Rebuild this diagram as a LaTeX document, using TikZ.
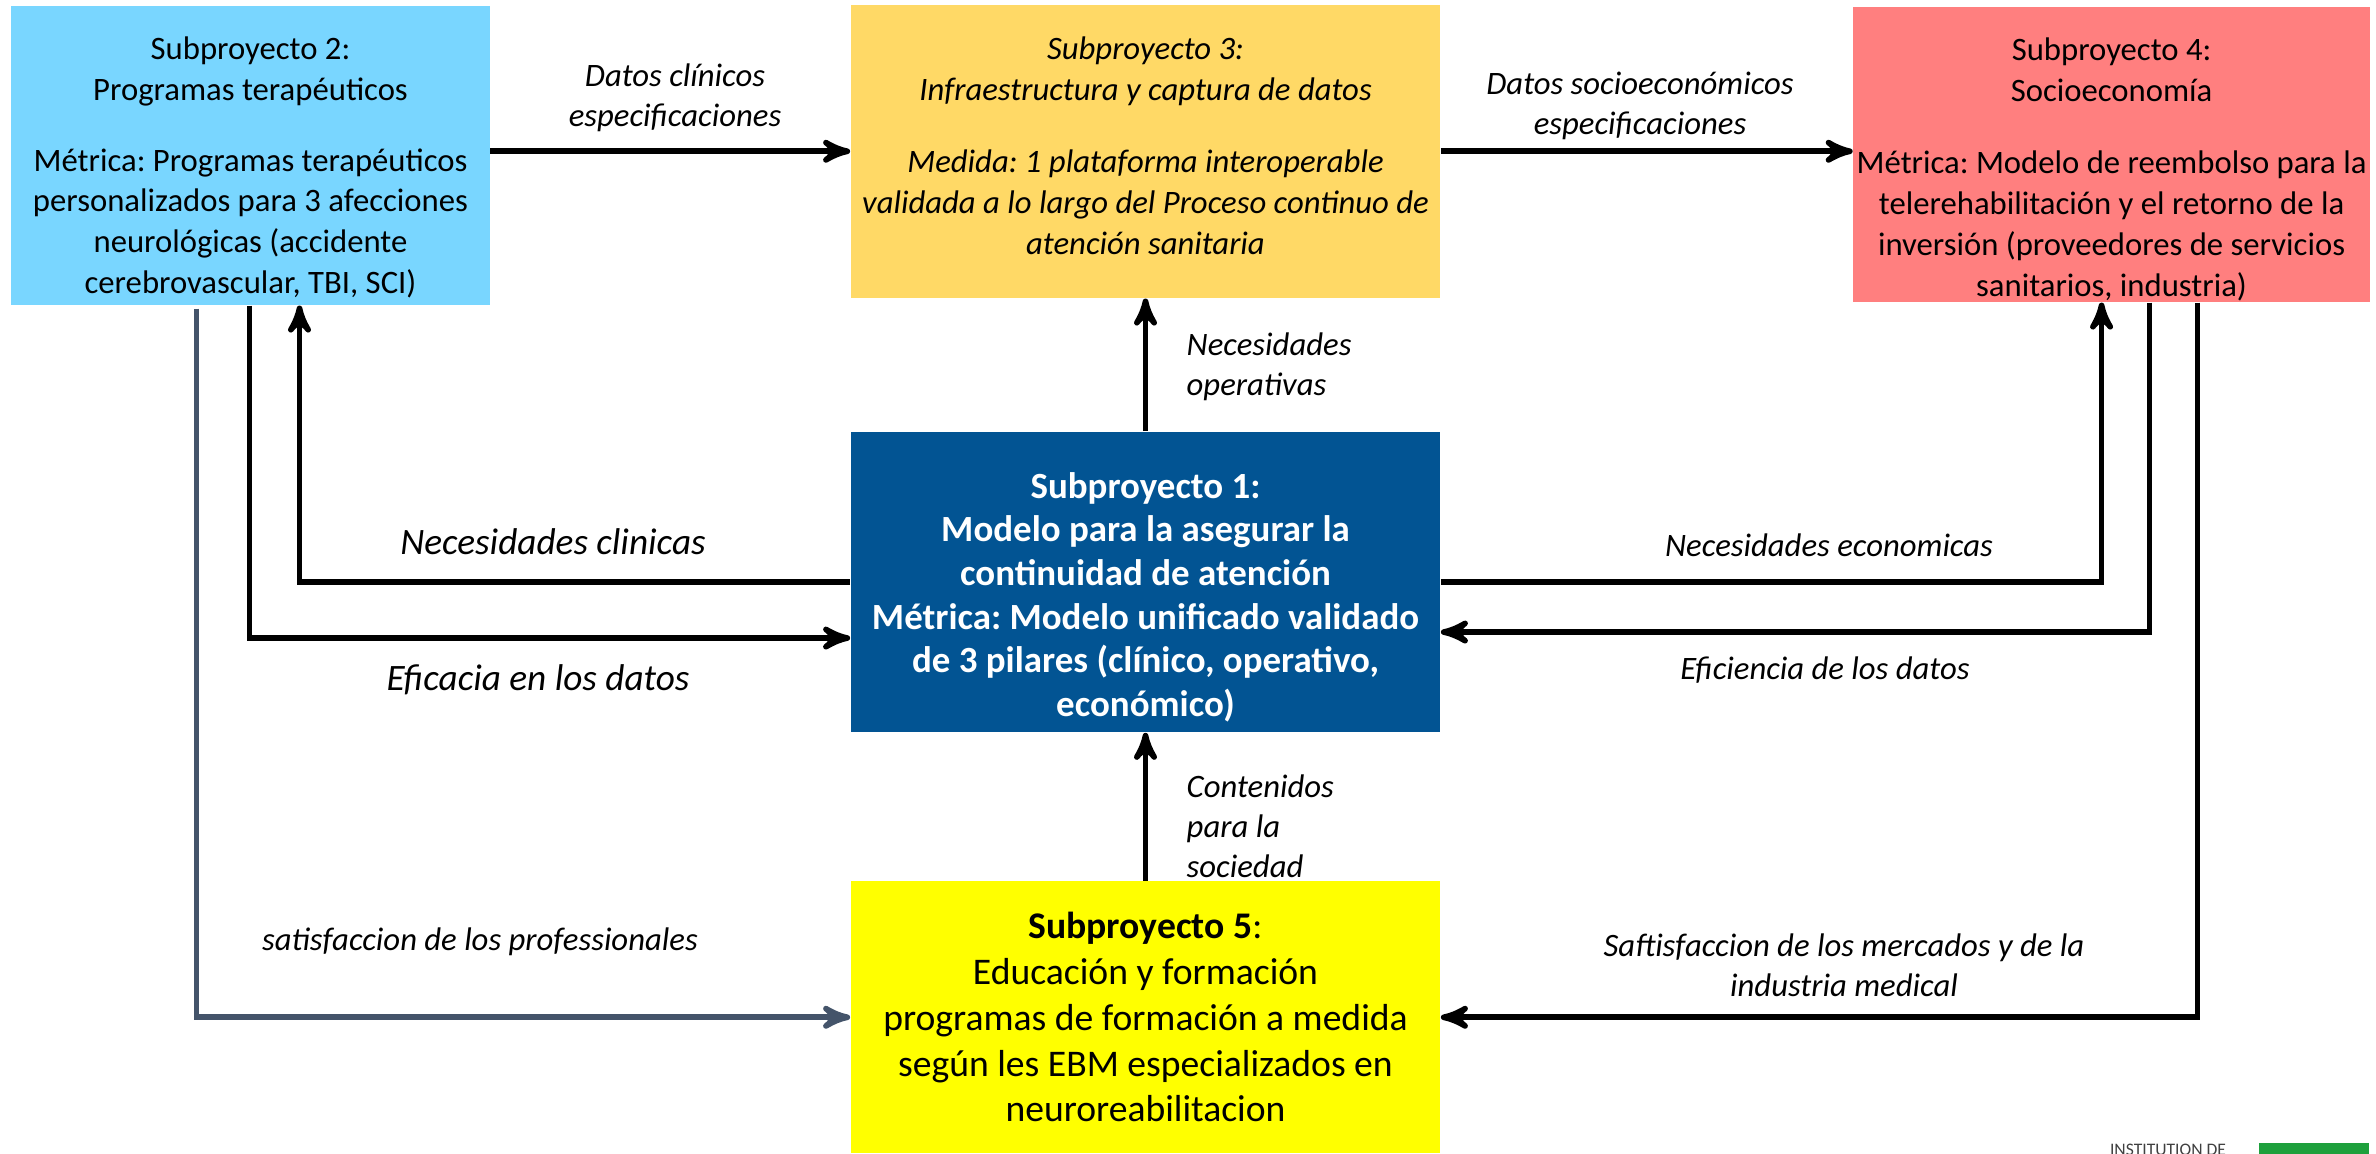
\documentclass[tikz,border=0pt]{standalone}
\usepackage{fontspec}
\setmainfont{Carlito}
\frenchspacing
\usetikzlibrary{positioning}
\usetikzlibrary{arrows}
\definecolor{sponeblue}{RGB}{2,84,147}
\definecolor{sptwoblue}{RGB}{121,214,255}
\definecolor{spthreegold}{RGB}{255,217,102}
\definecolor{spfourred}{RGB}{255,127,127}
\definecolor{spfiveyellow}{RGB}{255,255,0}
\definecolor{slategray}{RGB}{68,84,106}
\definecolor{logogreen}{RGB}{30,160,60}
\newcommand{\spfont}{\fontsize{9.3}{11.6}\selectfont}
\newcommand{\spbfont}{\fontsize{10.5}{12.4}\selectfont}
\newcommand{\spvfont}{\fontsize{10.7}{13}\selectfont}
\newcommand{\lblfont}{\fontsize{9.3}{11.3}\selectfont}
\newcommand{\lblbigfont}{\fontsize{10.6}{13}\selectfont}
\tikzset{subbox/.style={ % Sets the properties for each subproject
rectangle,
fill=#1,
align=center,
inner sep=0pt,
minimum width=5.89cm},
link/.style={ % Sets the properties for each connector
draw,
->,>=stealth', % Directed with bold arrowheads
line width=1.6pt},
lbl/.style={ % Labels on the connectors
font=\lblfont\itshape,
align=center,
inner sep=0pt}}

\begin{document}
\begin{tikzpicture}[x=0.01cm,y=-0.01cm]
					\useasboundingbox (0,0) rectangle (2376,1153);

					\node[subbox=sponeblue, minimum height=3cm, text=white, font=\spbfont\bfseries] (sp1) at (1145.5,582) {\rule{0pt}{16pt}Subproyecto 1:\\Modelo para la asegurar la\\continuidad de atención\\Métrica: Modelo unificado validado\\de 3 pilares (clínico, operativo,\\económico)};
					\node[subbox=spthreegold, above of=sp1, node distance=4.305cm, minimum height=2.93cm, font=\spfont\itshape] (sp3) {Subproyecto 3:\\Infraestructura y captura de datos\\[9pt]Medida: 1 plataforma interoperable\\validada a lo largo del Proceso continuo de\\atención sanitaria\rule[-3.4pt]{0pt}{3.4pt}};
					\node[subbox=sptwoblue, left of=sp3, node distance=8.945cm, yshift=-0.04cm, minimum width=4.78cm, minimum height=2.99cm, font=\spfont] (sp2) {\rule{0pt}{13.4pt}Subproyecto 2:\\Programas terapéuticos\\[8.5pt]Métrica: Programas terapéuticos\\personalizados para 3 afecciones\\neurológicas (accidente\\cerebrovascular, TBI, SCI)};
					\node[subbox=spfourred, right of=sp3, node distance=9.655cm, yshift=-0.03cm, minimum width=5.16cm, minimum height=2.95cm, font=\spfont] (sp4) {\rule{0pt}{15.1pt}Subproyecto 4:\\Socioeconomía\\[9pt]Métrica: Modelo de reembolso para la\\telerehabilitación y el retorno de la\\inversión (proveedores de servicios\\sanitarios, industria)};
					\node[subbox=spfiveyellow, below of=sp1, node distance=4.35cm, minimum height=2.72cm, font=\spvfont] (sp5) {\textbf{Subproyecto 5}:\\Educación y formación\\programas de formación a medida\\según les EBM especializados en\\neuroreabilitacion};

					\draw[link] (sp2.east |- sp3.west) -- (sp3.west);
					\draw[link] (sp3.east) -- (sp3.east -| sp4.west);
					\draw[link] (sp1.north) -- (sp1.north |- sp3.south);
					\draw[link] (sp5.north) -- (sp5.north |- sp1.south);
					\draw[link] (sp1.west) -| ([xshift=0.49cm]sp2.south);
					\draw[link] ([xshift=-0.01cm]sp2.south) |- ([yshift=-0.56cm]sp1.west);
					\draw[link, slategray] ([xshift=-0.54cm, yshift=-0.03cm]sp2.south) |- (sp5.west);
					\draw[link] (sp1.east) -| ([xshift=-0.10cm]sp4.south);
					\draw[link] ([xshift=0.38cm]sp4.south) |- ([yshift=-0.50cm]sp1.east);
					\draw[link] ([xshift=0.86cm]sp4.south) |- (sp5.east);

					\node[lbl] (datclin) at (675,98) {Datos clínicos\\especificaciones};
					\node[lbl] (datsoc) at (1640,106) {Datos socioeconómicos\\especificaciones};
					\node[lbl, align=left, anchor=west] (necop) at (1186,367) {Necesidades\\operativas};
					\node[lbl, align=left, anchor=west] (cont) at (1186,826) {Contenidos\\para la\\sociedad};
					\node[lbl, font=\lblbigfont\itshape] (necclin) at (553,542) {Necesidades clinicas};
					\node[lbl, font=\lblbigfont\itshape] (efic) at (538,680) {Eficacia en los datos};
					\node[lbl] (nececo) at (1829,545) {Necesidades economicas};
					\node[lbl] (eficien) at (1825,670) {Eficiencia de los datos};
					\node[lbl] (satprof) at (480,942) {satisfaccion de los professionales};
					\node[lbl] (satmerc) at (1844,965) {Saftisfaccion de los mercados y de la\\industria medical};

					\node[font=\fontsize{5}{6}\selectfont, text=darkgray, anchor=north, inner sep=0pt] (inst) at (2168,1143) {INSTITUTION DE};
					\node[fill=logogreen, anchor=north west, minimum width=1.1cm, minimum height=0.3cm, inner sep=0pt] (logo) at (2258,1142) {};
				\end{tikzpicture}
\end{document}
